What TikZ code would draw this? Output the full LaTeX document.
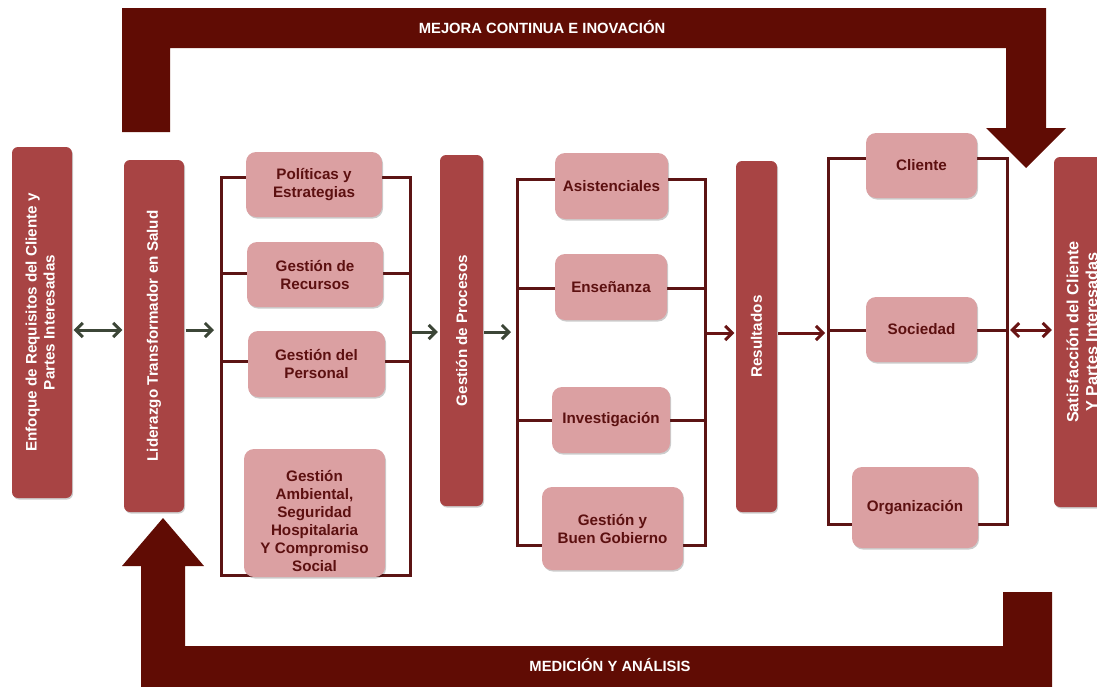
\documentclass[tikz,border=0pt]{standalone}
\usepackage{fontspec}
\setmainfont{Liberation Sans}
\usetikzlibrary{arrows.meta,backgrounds,shadows}
\definecolor{band}{RGB}{96,12,4}
\definecolor{barred}{RGB}{168,68,68}
\definecolor{boxpink}{RGB}{219,160,162}
\definecolor{boxtext}{RGB}{92,16,16}
\definecolor{brkcol}{RGB}{92,20,20}
\definecolor{grayarr}{RGB}{60,70,55}
\definecolor{redarr}{RGB}{105,20,20}
\begin{document}
\begin{tikzpicture}[x=1pt,y=-1pt,
  font=\fontsize{15.2}{18}\selectfont\bfseries,
  bar/.style={fill=barred, rounded corners=6pt, text=white, inner sep=0pt, align=center,
    drop shadow={shadow xshift=1pt, shadow yshift=-1.5pt, opacity=0.2, fill=black}},
  box/.style={fill=boxpink, rounded corners=10pt, text=boxtext, inner sep=0pt, align=center,
    drop shadow={shadow xshift=1pt, shadow yshift=-1.5pt, opacity=0.2, fill=black}},
  brk/.style={draw=brkcol, line width=3pt},
  tipb/.tip={Straight Barb[length=7pt,width=14pt]},
  garr/.style={draw=grayarr, line width=3pt, -tipb},
  garrb/.style={draw=grayarr, line width=3pt, tipb-tipb},
  rarr/.style={draw=redarr, line width=3pt, -tipb},
  rarrb/.style={draw=redarr, line width=3pt, tipb-tipb},
  bandtext/.style={text=white, inner sep=0pt, font=\fontsize{14.8}{18}\selectfont\bfseries}
]
\useasboundingbox (0,0) rectangle (1097,686);
\clip (0,0) rectangle (1097,686);

% feedback bands
\fill[band] (122,8) -- (1046,8) -- (1046,128) -- (1066,128) -- (1026,168) -- (986,128)
  -- (1006,128) -- (1006,48) -- (170,48) -- (170,132) -- (122,132) -- cycle;
\node[bandtext] (mejora) at (542,27) {MEJORA CONTINUA E INOVACIÓN};
\fill[band] (141,690) -- (141,566) -- (122,566) -- (163,518) -- (204,566) -- (185,566)
  -- (185,646) -- (1003,646) -- (1003,592) -- (1052,592) -- (1052,690) -- cycle;
\node[bandtext] (medicion) at (610,665) {MEDICIÓN Y ANÁLISIS};

% vertical bars
\node[bar, minimum width=60pt, minimum height=351pt] (enf) at (42,322.5)
  {\rotatebox{90}{\begin{tabular}{@{}c@{}}Enfoque de Requisitos del Cliente y\\Partes Interesadas\end{tabular}}};
\node[bar, minimum width=60pt, minimum height=352pt] (lid) at (154,336)
  {\rotatebox{90}{Liderazgo Transformador en Salud}};
\node[bar, minimum width=43pt, minimum height=351pt] (proc) at (461.5,330.5)
  {\rotatebox{90}{Gestión de Procesos}};
\node[bar, minimum width=41pt, minimum height=351pt] (res) at (756.5,336.5)
  {\rotatebox{90}{Resultados}};
\node[bar, minimum width=60pt, minimum height=350pt] (sat) at (1084,332)
  {\rotatebox{90}{\fontsize{16.2}{19}\selectfont\begin{tabular}{@{}c@{}}Satisfacción del Cliente\\Y Partes Interesadas\end{tabular}}};

% boxes column 1
\node[box, minimum width=136pt, minimum height=65pt] (pol) at (314,184.5) {Políticas y\\Estrategias};
\node[box, minimum width=136pt, minimum height=65pt] (rec) at (315,274.5) {Gestión de\\Recursos};
\node[box, minimum width=137pt, minimum height=66pt] (per) at (316.5,364) {Gestión del\\Personal};
\node[box, minimum width=141pt, minimum height=128pt] (amb) at (314.5,513)
  {\raisebox{-10pt}[\height][\depth]{\begin{tabular}{@{}c@{}}Gestión\\Ambiental,\\Seguridad\\Hospitalaria\\Y Compromiso\\Social\end{tabular}}};
% boxes column 2
\node[box, minimum width=113pt, minimum height=66pt] (asi) at (611.5,186) {Asistenciales};
\node[box, minimum width=112pt, minimum height=66pt] (ens) at (611,287) {Enseñanza};
\node[box, minimum width=118pt, minimum height=66pt] (inv) at (611,420) {Investigación};
\node[box, minimum width=141pt, minimum height=83pt] (gob) at (612.5,528.5) {Gestión y\\Buen Gobierno};
% boxes column 3
\node[box, minimum width=111pt, minimum height=65pt] (cli) at (921.5,165.5) {Cliente};
\node[box, minimum width=111pt, minimum height=65pt] (soc) at (921.5,329.5) {Sociedad};
\node[box, minimum width=126pt, minimum height=81pt] (org) at (915,507.5) {Organización};

% bracket junction coordinates
\coordinate (b1l) at (221,330);
\coordinate (b1r) at (410,332);
\coordinate (b2l) at (517,332);
\coordinate (b2r) at (705,333);
\coordinate (b3l) at (828,333);
\coordinate (b3r) at (1007,330);

% brackets
\begin{scope}[on background layer]
  \draw[brk] (pol.center |- 0,177) -- (221,177) -- (221,575) -- (amb.center |- 0,575);
  \draw[brk] (pol.center |- 0,177) -- (410,177) -- (410,575) -- (amb.center |- 0,575);
  \draw[brk] (221,273) -- (rec.center |- 0,273) -- (410,273);
  \draw[brk] (221,361) -- (per.center |- 0,361) -- (410,361);

  \draw[brk] (asi.center |- 0,179) -- (517,179) -- (517,545) -- (gob.center |- 0,545);
  \draw[brk] (asi.center |- 0,179) -- (705,179) -- (705,545) -- (gob.center |- 0,545);
  \draw[brk] (517,288) -- (ens.center |- 0,288) -- (705,288);
  \draw[brk] (517,420) -- (inv.center |- 0,420) -- (705,420);

  \draw[brk] (cli.center |- 0,158) -- (828,158) -- (828,524) -- (org.center |- 0,524);
  \draw[brk] (cli.center |- 0,158) -- (1007,158) -- (1007,524) -- (org.center |- 0,524);
  \draw[brk] (828,330) -- (soc.center |- 0,330) -- (1007,330);
\end{scope}

% flow arrows
\draw[garrb, shorten <=1.5pt, shorten >=1.5pt] (enf.east |- 0,330) -- (lid.west |- 0,330);
\draw[garr, shorten <=1.5pt, shorten >=7pt] (lid.east |- b1l) -- (b1l);
\draw[garr, shorten <=2pt, shorten >=2pt] (b1r) -- (proc.west |- b1r);
\draw[garr, shorten <=1pt, shorten >=6pt] (proc.east |- b2l) -- (b2l);
\draw[rarr, shorten <=2pt, shorten >=1.5pt] (b2r) -- (res.west |- b2r);
\draw[rarr, shorten <=1pt, shorten >=3pt] (res.east |- b3l) -- (b3l);
\draw[rarrb, shorten <=3pt, shorten >=2pt] (b3r) -- (sat.west |- b3r);
\end{tikzpicture}
\end{document}
